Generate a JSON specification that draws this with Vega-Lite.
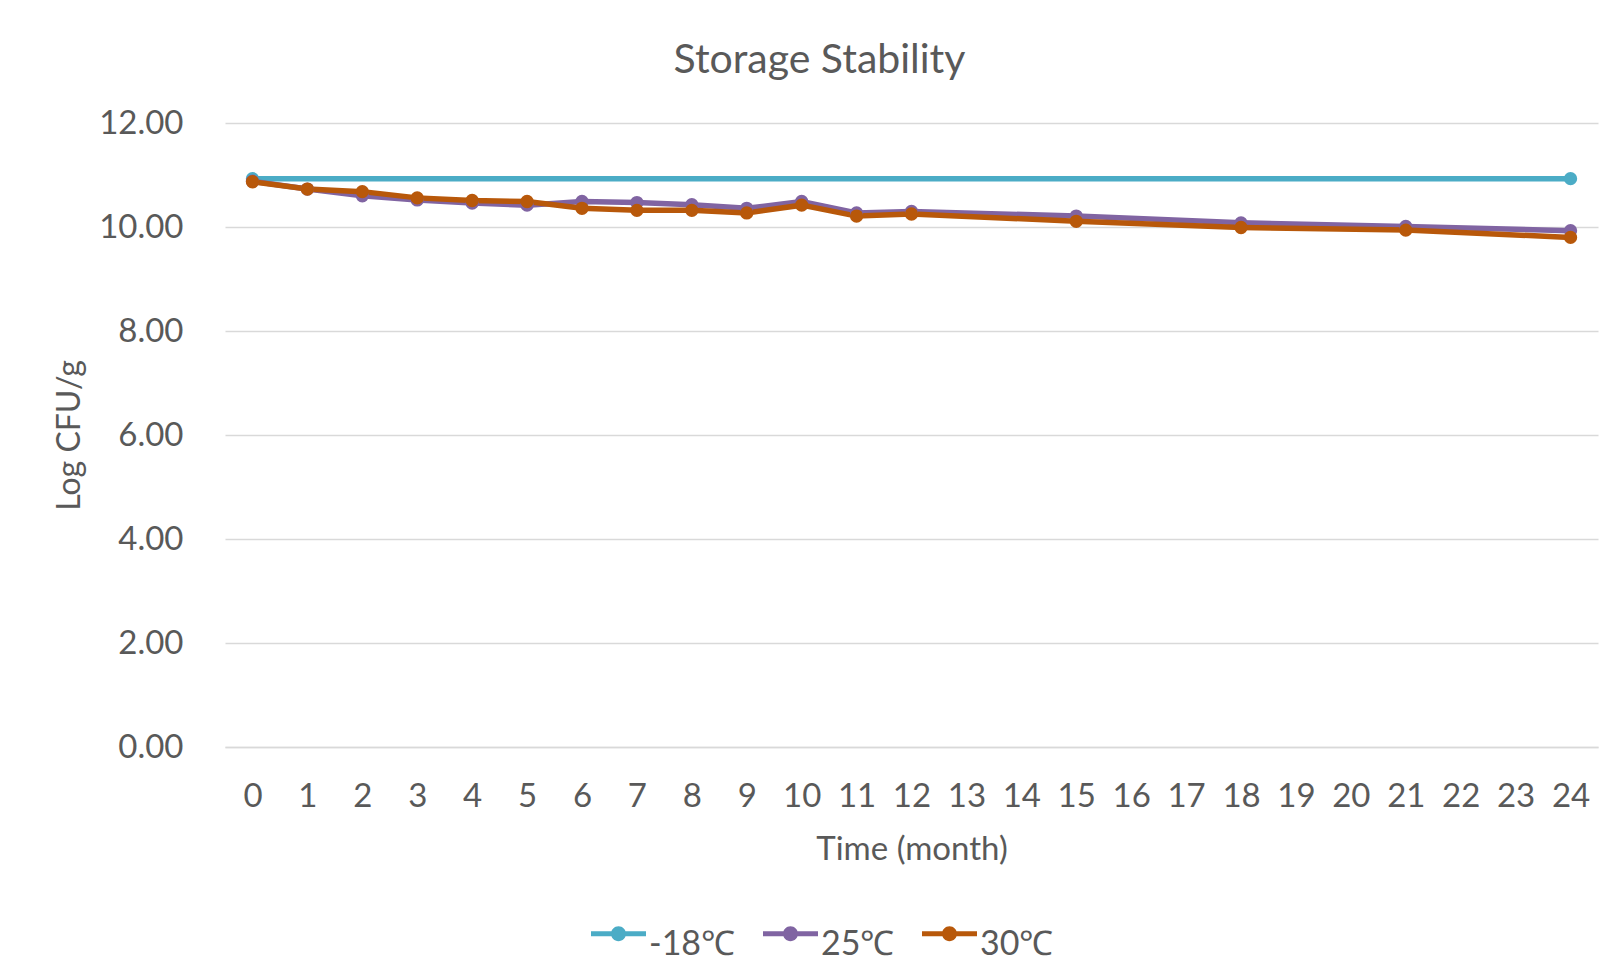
{
  "$schema": "https://vega.github.io/schema/vega-lite/v6.json",
  "autosize": {"type": "none"},
  "width": 1373,
  "height": 624,
  "padding": {"left": 225, "top": 123, "right": 8, "bottom": 226},
  "background": "white",
  "title": {
    "text": "Storage Stability",
    "fontSize": 41,
    "font": "Lato",
    "fontWeight": "normal",
    "color": "#595959",
    "anchor": "middle",
    "dx": -92,
    "baseline": "alphabetic",
    "offset": -7
  },
  "data": {
    "values": [
      {"month": 0, "series": "-18℃", "value": 10.93},
      {"month": 24, "series": "-18℃", "value": 10.93},
      {"month": 0, "series": "25℃", "value": 10.88},
      {"month": 1, "series": "25℃", "value": 10.73},
      {"month": 2, "series": "25℃", "value": 10.60},
      {"month": 3, "series": "25℃", "value": 10.52},
      {"month": 4, "series": "25℃", "value": 10.46},
      {"month": 5, "series": "25℃", "value": 10.42},
      {"month": 6, "series": "25℃", "value": 10.49},
      {"month": 7, "series": "25℃", "value": 10.47},
      {"month": 8, "series": "25℃", "value": 10.43},
      {"month": 9, "series": "25℃", "value": 10.36},
      {"month": 10, "series": "25℃", "value": 10.49},
      {"month": 11, "series": "25℃", "value": 10.27},
      {"month": 12, "series": "25℃", "value": 10.30},
      {"month": 15, "series": "25℃", "value": 10.21},
      {"month": 18, "series": "25℃", "value": 10.08},
      {"month": 21, "series": "25℃", "value": 10.01},
      {"month": 24, "series": "25℃", "value": 9.93},
      {"month": 0, "series": "30℃", "value": 10.87},
      {"month": 1, "series": "30℃", "value": 10.73},
      {"month": 2, "series": "30℃", "value": 10.68},
      {"month": 3, "series": "30℃", "value": 10.56},
      {"month": 4, "series": "30℃", "value": 10.51},
      {"month": 5, "series": "30℃", "value": 10.49},
      {"month": 6, "series": "30℃", "value": 10.36},
      {"month": 7, "series": "30℃", "value": 10.32},
      {"month": 8, "series": "30℃", "value": 10.32},
      {"month": 9, "series": "30℃", "value": 10.27},
      {"month": 10, "series": "30℃", "value": 10.42},
      {"month": 11, "series": "30℃", "value": 10.21},
      {"month": 12, "series": "30℃", "value": 10.25},
      {"month": 15, "series": "30℃", "value": 10.11},
      {"month": 18, "series": "30℃", "value": 9.99},
      {"month": 21, "series": "30℃", "value": 9.94},
      {"month": 24, "series": "30℃", "value": 9.80}
    ]
  },
  "mark": {
    "type": "line",
    "strokeWidth": 5.5,
    "point": {"filled": true, "size": 177, "opacity": 1}
  },
  "encoding": {
    "x": {
      "field": "month",
      "type": "ordinal",
      "scale": {"domain": [0,1,2,3,4,5,6,7,8,9,10,11,12,13,14,15,16,17,18,19,20,21,22,23,24], "padding": 0.5},
      "axis": {
        "title": "Time (month)",
        "labelAngle": 0,
        "labelFontSize": 33,
        "labelFont": "Lato",
        "labelColor": "#595959",
        "labelPadding": 33,
        "ticks": false,
        "grid": false,
        "domain": true,
        "domainColor": "#d9d9d9",
        "domainWidth": 1.5,
        "titleFont": "Lato",
        "titleFontSize": 33,
        "titleFontWeight": "normal",
        "titleColor": "#595959",
        "titlePadding": 20
      }
    },
    "y": {
      "field": "value",
      "type": "quantitative",
      "scale": {"domain": [0, 12], "nice": false, "zero": true},
      "axis": {
        "title": "Log CFU/g",
        "values": [0, 2, 4, 6, 8, 10, 12],
        "format": ".2f",
        "labelFontSize": 33,
        "labelFont": "Lato",
        "labelColor": "#595959",
        "labelPadding": 42,
        "ticks": false,
        "domain": false,
        "grid": true,
        "gridColor": "#d9d9d9",
        "gridWidth": 1.5,
        "titleFont": "Lato",
        "titleFontSize": 32,
        "titleFontWeight": "normal",
        "titleColor": "#595959",
        "titlePadding": 12
      }
    },
    "color": {
      "field": "series",
      "type": "nominal",
      "scale": {"domain": ["-18℃", "25℃", "30℃"], "range": ["#4BACC6", "#8064A2", "#B8580A"]},
      "legend": {
        "title": null,
        "orient": "none",
        "direction": "horizontal",
        "legendX": 366,
        "legendY": 783,
        "symbolType": "M-1,-0.09H1V0.09H-1Z M0.27,0A0.27,0.27 0 1,1 -0.27,0A0.27,0.27 0 1,1 0.27,0Z",
        "symbolSize": 3025,
        "symbolStrokeWidth": 0,
        "labelFont": "Lato",
        "labelFontSize": 34,
        "labelColor": "#595959",
        "labelOffset": 3,
        "columnPadding": 27,
        "encode": {
          "symbols": {"update": {"fill": {"scale": "color", "field": "value"}, "stroke": {"value": "transparent"}, "opacity": {"value": 1}}},
          "labels": {"update": {"dy": {"value": 11}}}
        }
      }
    }
  },
  "config": {"view": {"stroke": null}}
}
